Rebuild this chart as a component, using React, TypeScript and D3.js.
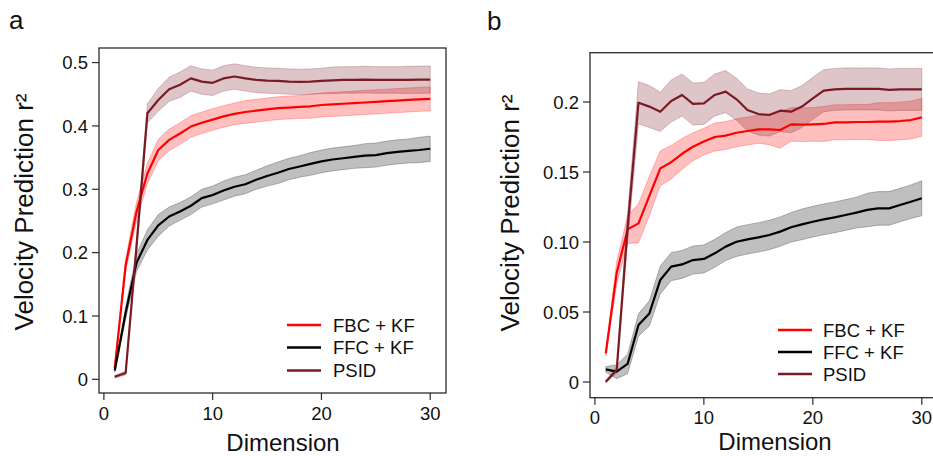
import React from 'react';
import * as d3 from 'd3';

const dims = [1, 2, 3, 4, 5, 6, 7, 8, 9, 10, 11, 12, 13, 14, 15, 16, 17, 18, 19, 20, 21, 22, 23, 24, 25, 26, 27, 28, 29, 30];

const seriesNames = ['FBC + KF', 'FFC + KF', 'PSID'];
const seriesColors = ['#ff0000', '#000000', '#7a1a24'];

// Panel a
const aFBC = [0.018, 0.18, 0.265, 0.325, 0.362, 0.378, 0.388, 0.399, 0.405, 0.41, 0.415, 0.419, 0.422, 0.424, 0.426, 0.428, 0.429, 0.43, 0.431, 0.433, 0.434, 0.435, 0.436, 0.437, 0.438, 0.439, 0.44, 0.441, 0.442, 0.4426];
const aFBCsem = [0.003, 0.01, 0.015, 0.016, 0.017, 0.017, 0.017, 0.017, 0.017, 0.017, 0.017, 0.017, 0.018, 0.018, 0.018, 0.018, 0.018, 0.018, 0.019, 0.019, 0.019, 0.019, 0.019, 0.019, 0.019, 0.019, 0.019, 0.019, 0.019, 0.019];
const aFFC = [0.014, 0.105, 0.184, 0.22, 0.243, 0.257, 0.265, 0.274, 0.286, 0.291, 0.298, 0.304, 0.308, 0.315, 0.321, 0.326, 0.332, 0.336, 0.34, 0.344, 0.347, 0.349, 0.351, 0.353, 0.354, 0.357, 0.359, 0.3605, 0.362, 0.364];
const aFFCsem = [0.003, 0.01, 0.014, 0.016, 0.017, 0.015, 0.014, 0.014, 0.014, 0.014, 0.015, 0.015, 0.015, 0.015, 0.016, 0.017, 0.017, 0.017, 0.018, 0.018, 0.018, 0.018, 0.018, 0.019, 0.019, 0.019, 0.019, 0.019, 0.02, 0.02];
const aPSID = [0.004, 0.01, 0.21, 0.42, 0.441, 0.458, 0.465, 0.475, 0.47, 0.468, 0.475, 0.478, 0.475, 0.4726, 0.4716, 0.471, 0.47, 0.4695, 0.47, 0.471, 0.472, 0.4726, 0.4726, 0.473, 0.4726, 0.4726, 0.4726, 0.4726, 0.473, 0.473];
const aPSIDsem = [0.002, 0.003, 0.01, 0.015, 0.018, 0.019, 0.02, 0.02, 0.02, 0.02, 0.02, 0.02, 0.02, 0.02, 0.02, 0.02, 0.02, 0.02, 0.02, 0.02, 0.021, 0.021, 0.021, 0.021, 0.021, 0.021, 0.021, 0.0215, 0.0215, 0.0215];

// Panel b
const bFBC = [0.0205, 0.078, 0.109, 0.1133, 0.133, 0.1526, 0.157, 0.163, 0.168, 0.1717, 0.175, 0.176, 0.178, 0.1793, 0.1805, 0.1805, 0.18, 0.184, 0.1838, 0.184, 0.1843, 0.1855, 0.1855, 0.1857, 0.1857, 0.186, 0.186, 0.1864, 0.1871, 0.189];
const bFBCsem = [0.002, 0.008, 0.01, 0.014, 0.014, 0.0125, 0.012, 0.011, 0.01, 0.0095, 0.01, 0.01, 0.01, 0.01, 0.01, 0.011, 0.013, 0.012, 0.012, 0.012, 0.0125, 0.0125, 0.0125, 0.0125, 0.0125, 0.0135, 0.0135, 0.0135, 0.0135, 0.0135];
const bFFC = [0.009, 0.0074, 0.0129, 0.0407, 0.049, 0.0729, 0.0824, 0.084, 0.0871, 0.0879, 0.0919, 0.0967, 0.1002, 0.1019, 0.1033, 0.105, 0.1074, 0.1105, 0.1126, 0.1145, 0.1162, 0.1176, 0.1193, 0.121, 0.1229, 0.124, 0.124, 0.1264, 0.1288, 0.1312];
const bFFCsem = [0.002, 0.005, 0.007, 0.008, 0.009, 0.01, 0.01, 0.01, 0.01, 0.01, 0.01, 0.01, 0.0105, 0.0105, 0.0105, 0.0105, 0.0105, 0.0105, 0.011, 0.011, 0.011, 0.011, 0.011, 0.011, 0.012, 0.012, 0.012, 0.012, 0.012, 0.0125];
const bPSID = [0.0002, 0.0086, 0.11, 0.1995, 0.1967, 0.193, 0.2007, 0.205, 0.1986, 0.199, 0.205, 0.2074, 0.2019, 0.1943, 0.1914, 0.1907, 0.1938, 0.1931, 0.1967, 0.2026, 0.2081, 0.209, 0.2093, 0.2093, 0.2093, 0.2093, 0.2086, 0.209, 0.209, 0.209];
const bPSIDsem = [0.001, 0.002, 0.01, 0.015, 0.015, 0.014, 0.015, 0.015, 0.015, 0.015, 0.015, 0.015, 0.015, 0.015, 0.015, 0.015, 0.015, 0.015, 0.015, 0.015, 0.015, 0.015, 0.015, 0.015, 0.015, 0.015, 0.015, 0.015, 0.015, 0.015];

const xTicks = [0, 10, 20, 30];
const xTickLabels = ['0', '10', '20', '30'];
const aYTicks = [0, 0.1, 0.2, 0.3, 0.4, 0.5];
const aYTickLabels = ['0', '0.1', '0.2', '0.3', '0.4', '0.5'];
const bYTicks = [0, 0.05, 0.1, 0.15, 0.2];
const bYTickLabels = ['0', '0.05', '0.10', '0.15', '0.2'];

const FONT = '"Liberation Sans", Arial, Helvetica, sans-serif';

type PanelProps = {
  box: { left: number; right: number; top: number; bottom: number };
  xDomain: [number, number];
  yDomain: [number, number];
  yTicks: number[];
  yTickLabels: string[];
  means: number[][];
  sems: number[][];
  letter: string;
  letterPos: [number, number];
  yLabelPos: [number, number];
  xLabelPos: [number, number];
  xTickBaseline: number;
  legend: { x0: number; x1: number; tx: number; ys: number[] };
};

function Panel(p: PanelProps) {
  const { box } = p;
  const x = d3.scaleLinear().domain(p.xDomain).range([box.left, box.right]);
  const y = d3.scaleLinear().domain(p.yDomain).range([box.bottom, box.top]);
  const order = [0, 1, 2];
  return (
    <g>
      {order.map((s) => {
        const area = d3
          .area<number>()
          .x((_, i) => x(dims[i]))
          .y0((d, i) => y(d - p.sems[s][i]))
          .y1((d, i) => y(d + p.sems[s][i]));
        return (
          <path
            key={'a' + s}
            d={area(p.means[s]) || ''}
            fill={seriesColors[s]}
            fillOpacity={0.25}
            stroke={seriesColors[s]}
            strokeOpacity={0.25}
            strokeWidth={1}
          />
        );
      })}
      {order.map((s) => {
        const line = d3
          .line<number>()
          .x((_, i) => x(dims[i]))
          .y((d) => y(d));
        return (
          <path
            key={'l' + s}
            d={line(p.means[s]) || ''}
            fill="none"
            stroke={seriesColors[s]}
            strokeWidth={2.2}
            strokeLinejoin="round"
          />
        );
      })}
      <rect
        x={box.left}
        y={box.top}
        width={box.right - box.left}
        height={box.bottom - box.top}
        fill="none"
        stroke="#2b2b2b"
        strokeWidth={1.3}
      />
      {p.yTicks.map((t, i) => (
        <g key={'yt' + i}>
          <line x1={box.left - 7} x2={box.left} y1={y(t)} y2={y(t)} stroke="#2b2b2b" strokeWidth={1.2} />
          <text
            x={box.left - 11}
            y={y(t)}
            dy="0.36em"
            textAnchor="end"
            fontFamily={FONT}
            fontSize={18.5}
            fill="#111"
          >
            {p.yTickLabels[i]}
          </text>
        </g>
      ))}
      {xTicks.map((t, i) => (
        <g key={'xt' + i}>
          <line x1={x(t)} x2={x(t)} y1={box.bottom} y2={box.bottom + 7} stroke="#2b2b2b" strokeWidth={1.2} />
          <text
            x={x(t)}
            y={p.xTickBaseline}
            textAnchor="middle"
            fontFamily={FONT}
            fontSize={18.5}
            fill="#111"
          >
            {xTickLabels[i]}
          </text>
        </g>
      ))}
      <text
        x={p.xLabelPos[0]}
        y={p.xLabelPos[1]}
        textAnchor="middle"
        fontFamily={FONT}
        fontSize={24}
        fill="#111"
      >
        Dimension
      </text>
      <text
        transform={`translate(${p.yLabelPos[0]},${p.yLabelPos[1]}) rotate(-90)`}
        textAnchor="middle"
        fontFamily={FONT}
        fontSize={26}
        fill="#111"
      >
        Velocity Prediction r²
      </text>
      <text x={p.letterPos[0]} y={p.letterPos[1]} fontFamily={FONT} fontSize={26} fill="#111">
        {p.letter}
      </text>
      {order.map((s) => (
        <g key={'lg' + s}>
          <line
            x1={p.legend.x0}
            x2={p.legend.x1}
            y1={p.legend.ys[s]}
            y2={p.legend.ys[s]}
            stroke={seriesColors[s]}
            strokeWidth={2.5}
          />
          <text
            x={p.legend.tx}
            y={p.legend.ys[s]}
            dy="0.36em"
            fontFamily={FONT}
            fontSize={18.5}
            fill="#111"
          >
            {seriesNames[s]}
          </text>
        </g>
      ))}
    </g>
  );
}

export default function App() {
  return (
    <svg
      width={933}
      height={456}
      style={{ position: 'absolute', left: 0, top: 0, background: '#fff' }}
    >
      <rect x={0} y={0} width={933} height={456} fill="#fff" />
      <Panel
        box={{ left: 99, right: 446, top: 48, bottom: 393 }}
        xDomain={[-0.45, 31.45]}
        yDomain={[-0.0216, 0.523]}
        yTicks={aYTicks}
        yTickLabels={aYTickLabels}
        means={[aFBC, aFFC, aPSID]}
        sems={[aFBCsem, aFFCsem, aPSIDsem]}
        letter="a"
        letterPos={[9, 29]}
        yLabelPos={[33, 212]}
        xLabelPos={[283, 451]}
        xTickBaseline={420}
        legend={{ x0: 287, x1: 321, tx: 333, ys: [325, 347.5, 370.5] }}
      />
      <Panel
        box={{ left: 590, right: 937.6, top: 52.7, bottom: 397.7 }}
        xDomain={[-0.45, 31.45]}
        yDomain={[-0.0112, 0.2352]}
        yTicks={bYTicks}
        yTickLabels={bYTickLabels}
        means={[bFBC, bFFC, bPSID]}
        sems={[bFBCsem, bFFCsem, bPSIDsem]}
        letter="b"
        letterPos={[487, 30]}
        yLabelPos={[519, 213]}
        xLabelPos={[775, 450]}
        xTickBaseline={424}
        legend={{ x0: 778, x1: 812, tx: 823, ys: [330, 352, 374] }}
      />
    </svg>
  );
}
